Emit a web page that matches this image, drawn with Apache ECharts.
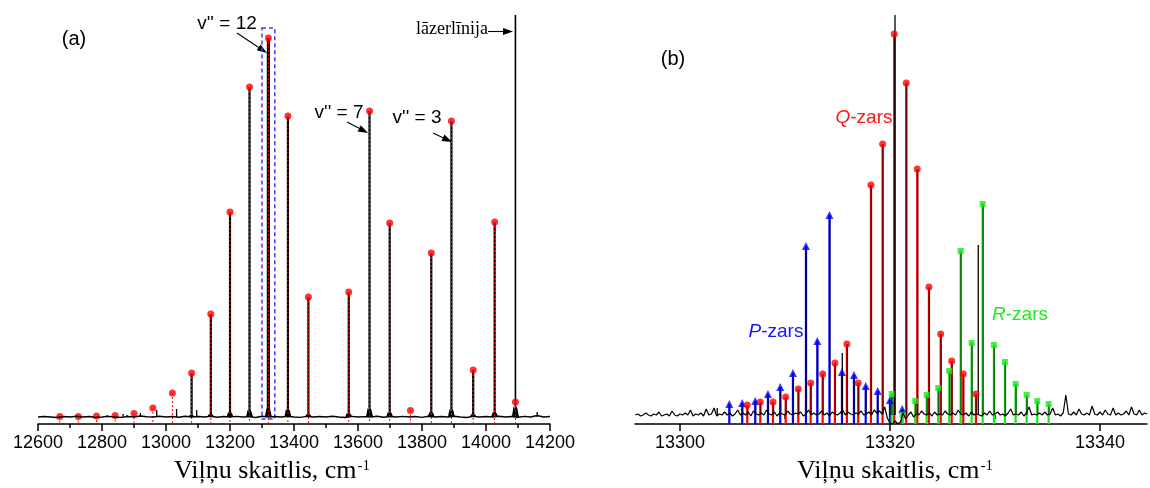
<!DOCTYPE html>
<html><head><meta charset="utf-8">
<script src="https://cdn.jsdelivr.net/npm/echarts@6/dist/echarts.min.js"></script>
<style>html,body{margin:0;padding:0;background:#fff}#c{width:1150px;height:488px}</style>
</head><body><div id="c"></div>
<script>
// ---------------- Panel (a) data ----------------
const ticksA = [12600, 12800, 13000, 13200, 13400, 13600, 13800, 14000, 14200];
const bandsA = [12668, 12726, 12783, 12841, 12900, 12959, 13020, 13080, 13140, 13200, 13261, 13320, 13381, 13445, 13571, 13636, 13699, 13764, 13829, 13892, 13960, 14027, 14092];
const dotsA  = [0.5, 0.5, 1, 1.5, 3.5, 9, 24, 44, 103, 205, 330, 379, 301, 120, 125, 306, 194, 6.5, 164, 296, 47, 195, 15];
const stickA = [0, 0, 0, 0, 0, 0, 0, 44, 103, 205, 330, 379, 301, 120, 125, 306, 194, 0, 164, 296, 47, 195, 430];
const moundA = [0, 0, 0, 0, 0, 0, 1, 2, 3, 5, 7, 9, 8, 3, 4, 9, 5, 0, 5, 8, 3, 5, 11];
const smallPeaksA = [[12816, 2], [12866, 3], [12878, 2], [12920, 4], [12971, 7], [13033, 8], [13096, 7], [14160, 5]];
const baselineStartA = 12600, baselineStepA = 20;
const baselineA = [0,0.5,0,-0.5,0.5,0,0.8,0,0.5,-0.5,0,0.6,0,-0.4,0.5,0,1,0.3,0,0.8,
  0,0.5,-0.3,0.8,0,0.5,0,0.8,-0.3,0.5,0,0.6,0,0.4,-0.5,0.8,0,0.5,0,0.7,
  0,-0.4,0.6,0,0.5,0,0.8,0,-0.5,0.6,0,0.4,0,0.7,-0.3,0.5,0,0.6,0,0.5,
  -0.4,0.7,0,0.5,0,0.8,0,-0.5,0.6,0,0.5,0,0.8,0,0.5,-0.3,0.6,0,1.5,0,0.5];
const zoomBoxA = { x0: 13300, x1: 13340, y0: -2, y1: 389 };

// ---------------- Panel (b) data ----------------
const ticksB = [13300, 13320, 13340];
const minorTicksB = [13310, 13330];
const pX = [13304.70,13305.93,13307.17,13308.38,13309.55,13310.76,13312.00,13313.08,13314.24,13315.43,13316.57,13317.69,13318.83,13320.00,13321.17];
const pY = [11,12,14,21,28,42,169,74,200,43,40,29,24,15,6];
const qX = [13306.41,13307.65,13308.86,13310.07,13311.27,13312.45,13313.59,13314.76,13315.90,13316.98,13318.19,13319.30,13320.41,13321.55,13322.60,13323.71,13324.83,13325.88,13326.98,13328.19];
const qY = [10,13,13,18,26,32,41,52,71,32,230,271,381,332,246,128,81,54,41,21];
const rX = [13320.16,13321.20,13322.41,13323.50,13324.60,13325.65,13326.73,13327.78,13328.83,13329.90,13330.95,13331.97,13333.02,13334.03,13335.11];
const rY = [21,0,14,20,27,44,164,72,211,70,53,31,20,14,11];
const extraPeaksB = [[13320.48, 430], [13328.41, 170], [13315.46, 62], [13303.55, 7]];
const noiseStartB = 13295.75, noiseStepB = 0.25;
const noiseB = [0,1,-1,0, 2,0,-1,1, 0,3,-1,0, 1,-1,4,0, -1,1,0,2, 0,5,-1,1, 0,2,-1,6, 0,1,7,-1,
  1,0,3,0, 2,-1,1,5, 0,2,0,3, -1,4,1,0, 2,0,5,1, 0,3,-1,2, 1,0,4,1, 0,2,1,3,
  -1,1,5,0, 2,0,1,4, 0,2,-1,3, 1,0,2,5, 0,3,1,0, 2,1,4,0, 1,3,0,5, 2,4,1,8,
  -3,-8,-9,-6, -9,-7,2,-4, 0,3,-2,1, 0,4,1,0, 2,-1,3,0, 1,0,4,1, 0,2,0,5, 1,0,2,-1,
  3,0,1,0, -1,2,0,4, 0,1,3,0, 1,-1,2,6, 0,1,0,3, -1,2,8,0, 1,0,2,0, 3,0,1,7,
  0,1,-1,2, 20,1,0,3, 0,6,1,0, 2,0,9,1, 0,3,0,5, 1,0,7,0, 2,0,1,4, 0,8,1,0, 5,0,2,1];

// ---------------- Setup ----------------
const SANS = '"Liberation Sans", Arial, sans-serif';
const SERIF = '"Liberation Serif", "Times New Roman", serif';
const YMIN_A = -7, YMAX_A = 402, YMIN_B = -9, YMAX_B = 400;
const XMIN_B = 13295.72, XMAX_B = 13344.48;

const chart = echarts.init(document.getElementById('c'), null, { renderer: 'canvas', width: 1150, height: 488 });

function stem(color, width, dash, dx) {
  return function (params, api) {
    const x = api.value(0);
    const t = api.coord([x, api.value(1)]);
    const b = api.coord([x, api.value(2)]);
    return { type: 'line', shape: { x1: t[0] + dx, y1: t[1], x2: b[0] + dx, y2: b[1] },
      style: { stroke: color, lineWidth: width, lineDash: dash || null } };
  };
}

const idx12 = bandsA.indexOf(13320);
const series = [];
series.push({ type: 'line', xAxisIndex: 0, yAxisIndex: 0, showSymbol: false, silent: true,
  data: baselineA.map((v, i) => [baselineStartA + i * baselineStepA, v]),
  lineStyle: { color: '#000', width: 1.4 } });
series.push({ type: 'custom', xAxisIndex: 0, yAxisIndex: 0, silent: true, clip: true,
  data: bandsA.map((x, i) => [x, moundA[i]]),
  renderItem(params, api) {
    const x = api.value(0), h = api.value(1);
    if (h <= 0) return null;
    const pts = [[x - 11, 0], [x - 6, h], [x - 2, h * 0.7], [x + 2, h], [x + 6, h * 0.8], [x + 11, 0]].map(p => api.coord(p));
    return { type: 'polygon', shape: { points: pts }, style: { fill: '#000' } };
  } });
series.push({ type: 'custom', xAxisIndex: 0, yAxisIndex: 0, silent: true, clip: true,
  data: smallPeaksA.map(p => [p[0], p[1], 0]), renderItem: stem('#000', 1.3, null, 0) });
series.push({ type: 'custom', xAxisIndex: 0, yAxisIndex: 0, silent: true, clip: true,
  data: bandsA.map((x, i) => [x, stickA[i], 0]),
  renderItem(params, api) {
    if (api.value(1) <= 0) return null;
    const w = params.dataIndex === idx12 ? 3.2 : (params.dataIndex === bandsA.length - 1 ? 1.6 : 2.2);
    return stem('#000', w, null, 0)(params, api);
  } });
series.push({ type: 'custom', xAxisIndex: 0, yAxisIndex: 0, silent: true, clip: true,
  data: bandsA.map((x, i) => [x, dotsA[i], YMIN_A]), renderItem: stem('#ff0000', 1, [2, 2], 0) });
series.push({ type: 'scatter', xAxisIndex: 0, yAxisIndex: 0, silent: true, symbol: 'circle', symbolSize: 7,
  itemStyle: { color: '#ff0000' }, data: bandsA.map((x, i) => [x, dotsA[i]]) });
series.push({ type: 'custom', xAxisIndex: 0, yAxisIndex: 0, silent: true,
  data: [[zoomBoxA.x0, zoomBoxA.y1, zoomBoxA.x1, zoomBoxA.y0]],
  renderItem(params, api) {
    const a = api.coord([api.value(0), api.value(1)]);
    const b = api.coord([api.value(2), api.value(3)]);
    return { type: 'rect', shape: { x: a[0], y: a[1], width: b[0] - a[0], height: b[1] - a[1] },
      style: { fill: null, stroke: '#3b3bff', lineWidth: 1.5, lineDash: [4, 3] } };
  } });

series.push({ type: 'line', xAxisIndex: 1, yAxisIndex: 1, showSymbol: false, silent: true,
  data: noiseB.map((v, i) => [noiseStartB + i * noiseStepB, v]),
  lineStyle: { color: '#000', width: 1.2 } });
const branches = [
  { xs: pX, ys: pY, color: '#0000ff', symbol: 'triangle', size: 8 },
  { xs: qX, ys: qY, color: '#ff0000', symbol: 'circle', size: 7 },
  { xs: rX, ys: rY, color: '#17e817', symbol: 'rect', size: 6 }
];
branches.forEach(br => {
  series.push({ type: 'custom', xAxisIndex: 1, yAxisIndex: 1, silent: true, clip: true,
    data: br.xs.map((x, i) => [x, br.ys[i], YMIN_B]), renderItem: stem(br.color, 2.2, null, 0) });
});
branches.forEach(br => {
  series.push({ type: 'custom', xAxisIndex: 1, yAxisIndex: 1, silent: true, clip: true,
    data: br.xs.map((x, i) => [x, br.ys[i], 0]),
    renderItem(params, api) { if (api.value(1) <= 1) return null; return stem('rgba(0,0,0,0.55)', 1.6, null, 0.4)(params, api); } });
});
series.push({ type: 'custom', xAxisIndex: 1, yAxisIndex: 1, silent: true, clip: true,
  data: extraPeaksB.map(p => [p[0], p[1], 0]), renderItem: stem('#000', 1.3, null, 0) });
branches.forEach(br => {
  series.push({ type: 'scatter', xAxisIndex: 1, yAxisIndex: 1, silent: true, symbol: br.symbol, symbolSize: br.size,
    itemStyle: { color: br.color }, data: br.xs.map((x, i) => [x, br.ys[i]]) });
});

function arrow(x1, y1, x2, y2) {
  const a = Math.atan2(y2 - y1, x2 - x1), L = 10, W = 3.5;
  const bx = x2 - L * Math.cos(a), by = y2 - L * Math.sin(a);
  const nx = -Math.sin(a), ny = Math.cos(a);
  return [
    { type: 'line', shape: { x1, y1, x2: bx, y2: by }, style: { stroke: '#000', lineWidth: 1.1 } },
    { type: 'polygon', shape: { points: [[x2, y2], [bx + nx * W, by + ny * W], [bx - nx * W, by - ny * W]] }, style: { fill: '#000' } }
  ];
}
function txt(t, x, y, font, fill, align, rich) {
  return { type: 'text', x, y, style: { text: t, font, fill: fill || '#000', align: align || 'center', verticalAlign: 'middle', rich } };
}
const cv = document.createElement('canvas').getContext('2d');
function measure(t, font) { cv.font = font; return cv.measureText(t).width; }

const titleFont = '26px ' + SERIF;
const titleMain = 'Viļņu skaitlis, cm';
const tw = measure(titleMain, titleFont);

const graphics = [
  txt('(a)', 74, 39, '20px ' + SANS),
  txt('(b)', 673, 59, '20px ' + SANS),
  txt("v'' = 12", 227, 24, '19px ' + SANS),
  txt("v'' = 7", 339, 113, '19px ' + SANS),
  txt("v'' = 3", 417, 118, '19px ' + SANS),
  txt('lāzerlīnija', 452, 29, '18px ' + SERIF),
  ...arrow(237, 33, 267, 53),
  ...arrow(347, 122, 368, 133),
  ...arrow(433, 133, 452, 142),
  ...arrow(488, 31.5, 513, 31.5),
  txt('{i|P}-zars', 776, 332, '19px ' + SANS, '#1515ff', 'center', { i: { fontStyle: 'italic', fontSize: 19, fontFamily: SANS, fill: '#1515ff' } }),
  txt('{i|Q}-zars', 864, 118, '19px ' + SANS, '#ff1515', 'center', { i: { fontStyle: 'italic', fontSize: 19, fontFamily: SANS, fill: '#ff1515' } }),
  txt('{i|R}-zars', 1020, 315, '19px ' + SANS, '#22e622', 'center', { i: { fontStyle: 'italic', fontSize: 19, fontFamily: SANS, fill: '#22e622' } }),
  txt(titleMain, 174, 471, titleFont, '#000', 'left'),
  txt('-1', 174 + tw + 1, 466, '15px ' + SERIF, '#000', 'left'),
  txt(titleMain, 797, 471, titleFont, '#000', 'left'),
  txt('-1', 797 + tw + 1, 466, '15px ' + SERIF, '#000', 'left')
];

const plain = v => String(Math.round(v));
const axisLine = { show: true, onZero: false, lineStyle: { color: '#000', width: 1.5 } };
const option = {
  animation: false,
  backgroundColor: '#fff',
  grid: [
    { left: 38, right: 600, top: 15, bottom: 64, containLabel: false, outerBoundsMode: 'none' },
    { left: 635, right: 3, top: 15, bottom: 64, containLabel: false, outerBoundsMode: 'none' }
  ],
  xAxis: [
    { type: 'value', gridIndex: 0, position: 'bottom', min: ticksA[0], max: ticksA[ticksA.length - 1], interval: ticksA[1] - ticksA[0],
      axisLine, splitLine: { show: false },
      axisTick: { show: true, inside: false, length: 7, lineStyle: { color: '#000', width: 1.5 } },
      minorTick: { show: true, splitNumber: 2, length: 4, lineStyle: { color: '#000', width: 1.5 } },
      axisLabel: { show: true, fontSize: 18, fontFamily: SANS, color: '#000', margin: 10, showMinLabel: true, showMaxLabel: true, formatter: plain } },
    { type: 'value', gridIndex: 1, position: 'bottom', min: XMIN_B, max: XMAX_B,
      axisLine, splitLine: { show: false },
      axisTick: { show: true, inside: false, length: 7, customValues: ticksB, lineStyle: { color: '#000', width: 1.5 } },
      axisLabel: { show: true, fontSize: 18, fontFamily: SANS, color: '#000', margin: 10, customValues: ticksB, formatter: plain } },
    { type: 'value', gridIndex: 1, position: 'bottom', min: XMIN_B, max: XMAX_B,
      axisLine: { show: false }, splitLine: { show: false }, axisLabel: { show: false },
      axisTick: { show: true, inside: false, length: 4, customValues: minorTicksB, lineStyle: { color: '#000', width: 1.5 } } }
  ],
  yAxis: [
    { type: 'value', gridIndex: 0, min: YMIN_A, max: YMAX_A, show: false },
    { type: 'value', gridIndex: 1, min: YMIN_B, max: YMAX_B, show: false }
  ],
  series,
  graphic: graphics
};
chart.setOption(option);
</script></body></html>
